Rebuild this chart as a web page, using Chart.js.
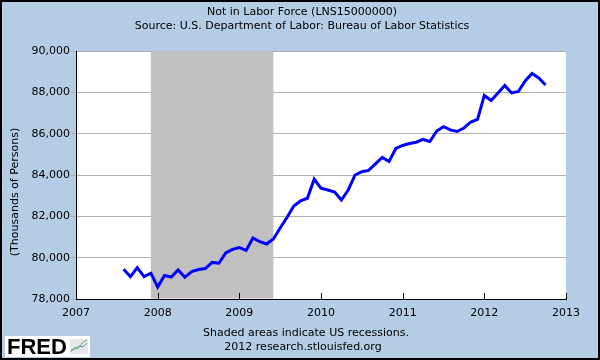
<!DOCTYPE html>
<html><head><meta charset="utf-8">
<script src="https://cdn.jsdelivr.net/npm/chart.js@4/dist/chart.umd.min.js"></script>
<style>html,body{margin:0;padding:0;background:#b4cde5;overflow:hidden}</style>
</head><body>
<canvas id="c" width="600" height="360" style="display:block;width:600px;height:360px"></canvas>
<script>
const months = [
  "2007-08","2007-09","2007-10","2007-11","2007-12",
  "2008-01","2008-02","2008-03","2008-04","2008-05","2008-06","2008-07","2008-08","2008-09","2008-10","2008-11","2008-12",
  "2009-01","2009-02","2009-03","2009-04","2009-05","2009-06","2009-07","2009-08","2009-09","2009-10","2009-11","2009-12",
  "2010-01","2010-02","2010-03","2010-04","2010-05","2010-06","2010-07","2010-08","2010-09","2010-10","2010-11","2010-12",
  "2011-01","2011-02","2011-03","2011-04","2011-05","2011-06","2011-07","2011-08","2011-09","2011-10","2011-11","2011-12",
  "2012-01","2012-02","2012-03","2012-04","2012-05","2012-06","2012-07","2012-08","2012-09","2012-10"
];
const notInLaborForce = [
  79440,79080,79515,79080,79250,
  78580,79140,79065,79405,79050,79330,79430,79475,79770,79730,80225,80400,
  80490,80350,80950,80775,80660,80900,81435,81945,82500,82745,82875,83795,
  83360,83275,83180,82790,83275,84000,84160,84220,84535,84850,84655,85285,
  85430,85525,85585,85720,85620,86130,86340,86180,86105,86275,86565,86690,
  87850,87605,87970,88335,87970,88040,88550,88915,88695,88355
];
const xTickYears = [2007,2008,2009,2010,2011,2012,2013];
const yTickValues = [78000,80000,82000,84000,86000,88000,90000];
const recession = ["2007-12","2009-06"];
const titleLines = ["Not in Labor Force (LNS15000000)","Source: U.S. Department of Labor: Bureau of Labor Statistics"];
const yAxisTitle = "(Thousands of Persons)";
const footerLines = ["Shaded areas indicate US recessions.","2012 research.stlouisfed.org"];
const logoText = "FRED";

function monthToYear(m){ const [y,mo]=m.split("-").map(Number); return y+(mo-1)/12; }
const points = months.map((m,i)=>({x:monthToYear(m), y:notInLaborForce[i]}));

const FONT = "'DejaVu Sans', Verdana, sans-serif";
Chart.defaults.font.family = FONT;
Chart.defaults.font.size = 11;
Chart.defaults.color = '#000';

const fredPlugin = {
  id:'fred',
  beforeDraw(chart){
    const {ctx, chartArea:a} = chart;
    ctx.save();
    ctx.fillStyle = '#b4cde5';
    ctx.fillRect(0,0,chart.width,chart.height);
    ctx.fillStyle = '#ffffff';
    ctx.fillRect(a.left,a.top,a.right-a.left,a.bottom-a.top);
    ctx.restore();
  },
  beforeDatasetsDraw(chart){
    const {ctx, chartArea:a, scales} = chart;
    const x0 = scales.x.getPixelForValue(monthToYear(recession[0]));
    const x1 = scales.x.getPixelForValue(monthToYear(recession[1]));
    ctx.save();
    ctx.fillStyle = '#c0c0c0';
    ctx.fillRect(x0, a.top, x1-x0, a.bottom-a.top-0.5);
    ctx.strokeStyle = '#000';
    ctx.lineWidth = 1;
    scales.x.ticks.forEach(t=>{
      const px = Math.round(scales.x.getPixelForValue(t.value))+0.5;
      ctx.beginPath(); ctx.moveTo(px,a.bottom); ctx.lineTo(px,a.bottom-6); ctx.stroke();
    });
    ctx.restore();
  },
  afterDraw(chart){
    const {ctx} = chart;
    ctx.save();
    ctx.fillStyle = '#000';
    ctx.font = "11px " + FONT;
    ctx.textAlign = 'center';
    ctx.textBaseline = 'middle';
    ctx.fillText(titleLines[0], 302, 12);
    ctx.fillText(titleLines[1], 302, 26);
    ctx.fillText(footerLines[0], 306, 333);
    ctx.fillText(footerLines[1], 303, 347);
    ctx.save();
    ctx.translate(15, 192);
    ctx.rotate(-Math.PI/2);
    ctx.fillText(yAxisTitle, 0, 0);
    ctx.restore();
    // logo
    ctx.fillStyle = '#ffffff';
    ctx.fillRect(5,336,85,21);
    ctx.fillStyle = '#000';
    ctx.font = "bold 22px 'Liberation Sans', Arial, sans-serif";
    ctx.textAlign = 'left';
    ctx.textBaseline = 'alphabetic';
    ctx.fillText(logoText, 7, 354);
    ctx.fillStyle = '#e4e8ec';
    ctx.fillRect(70,339,18,15);
    ctx.lineWidth = 1;
    ctx.strokeStyle = '#7ab648';
    ctx.beginPath(); ctx.moveTo(71,352); ctx.lineTo(75,347); ctx.lineTo(78,349); ctx.lineTo(82,343); ctx.lineTo(87,340); ctx.stroke();
    ctx.strokeStyle = '#6a8fc8';
    ctx.beginPath(); ctx.moveTo(71,350); ctx.lineTo(75,349); ctx.lineTo(79,346); ctx.lineTo(83,347); ctx.lineTo(87,343); ctx.stroke();
    // border
    ctx.strokeStyle = '#000';
    ctx.lineWidth = 2;
    ctx.strokeRect(1,1,598,358);
    ctx.restore();
  }
};

new Chart(document.getElementById('c'), {
  type:'line',
  data:{ datasets:[{
    label:'Not in Labor Force',
    data: points,
    borderColor:'#0000ff',
    borderWidth:3,
    pointRadius:0,
    tension:0,
    fill:false
  }]},
  options:{
    responsive:false,
    animation:false,
    devicePixelRatio:1,
    layout:{padding:{top:51,left:0,right:34,bottom:41}},
    plugins:{legend:{display:false},tooltip:{enabled:false},title:{display:false}},
    scales:{
      x:{
        type:'linear', min:2007, max:2013,
        afterBuildTicks(s){ s.ticks = xTickYears.map(v=>({value:v})); },
        afterFit(s){ s.height = 20; },
        ticks:{ callback:v=>String(v), maxRotation:0, autoSkip:false, padding:8, color:'#000' },
        grid:{ drawOnChartArea:false, drawTicks:false },
        border:{ display:true, color:'#000', width:1 }
      },
      y:{
        min:78000, max:90000,
        afterBuildTicks(s){ s.ticks = yTickValues.map(v=>({value:v})); },
        afterFit(s){ s.width = 76; },
        ticks:{ callback:v=>v.toLocaleString('en-US'), padding:1, color:'#000' },
        grid:{ color:'#b0b0b0', lineWidth:1, tickLength:5 },
        border:{ display:true, color:'#000', width:1 }
      }
    }
  },
  plugins:[fredPlugin]
});
</script>
</body></html>
